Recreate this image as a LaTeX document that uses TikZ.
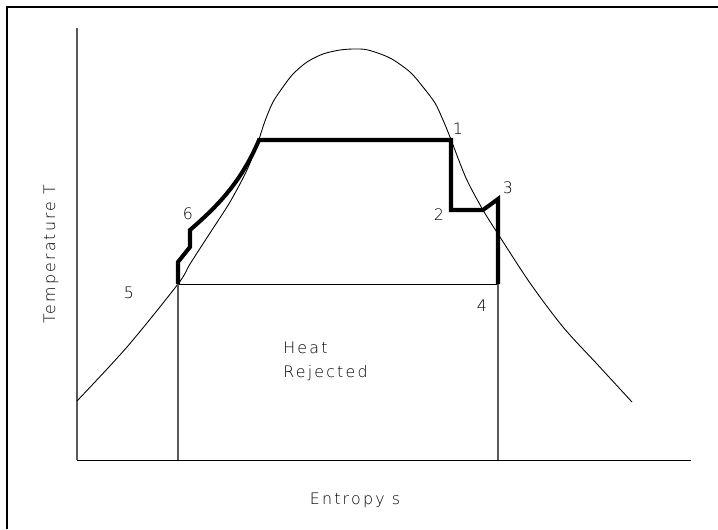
\documentclass[tikz,border=0pt]{standalone}
\usepackage{fontspec}
\setmainfont{DejaVu Sans ExtraLight}[LetterSpace=14]

\begin{document}
\begin{tikzpicture}[x=0.02cm, y=-0.02cm,
    fina/.style={line width=0.5pt},
    gris/.style={line width=0.6pt, black!65},
    ciclo/.style={line width=2.3pt, line join=miter},
    etiqueta/.style={font=\fontsize{9}{11}\selectfont, inner sep=0pt}]
            \useasboundingbox (0,0) rectangle (718,529);
            % Marco
            \draw[line width=1.3pt] (7,529) -- (7,7) -- (718,7);

            % Ejes coordinados
            \coordinate (origen) at (77,460);
            \draw[gris] (origen) -- (77,28);
            \draw[fina] (origen) -- (691,460);
            \node[etiqueta, rotate=90, anchor=base] (ejeT) at (55,254) {Temperature T};
            \node[etiqueta, anchor=base] (ejes) at (355,504) {Entropy s};

            % Campana de saturacion
            \draw[fina] plot[smooth, tension=0.5] coordinates {
                (77,401) (127,347) (178,284) (190,264) (210,233) (230,202) (247,170)
                (258,142) (265,121) (273,102) (283,87) (293,74) (307,62) (323,54)
                (340,50) (354,49) (368,50) (390,58) (410,72) (423,87) (435,103)
                (443,120) (450,137) (466,178) (483,210) (500,237) (530,283)
                (563,327) (597,364) (632,402)};

            % Estados del ciclo
            \coordinate (s1) at (451,140);
            \coordinate (s2) at (451,210);
            \coordinate (s2b) at (483,210);
            \coordinate (s3) at (498,199);
            \coordinate (s4) at (498,284);
            \coordinate (s5) at (178,284);
            \coordinate (s6) at (190,230);
            \coordinate (sg) at (259,140);

            % Calor rechazado
            \draw[fina] (s5) -- (s4);
            \draw[gris] (s5) -- (178,460);
            \draw[gris] (s4) -- (498,460);

            % Ciclo (linea gruesa)
            \draw[ciclo] (s4) -- (s3) -- (s2b) -- (s2) -- (s1) -- (sg)
                .. controls (240,185) and (214,209) .. (s6)
                -- (190,247) -- (178,262) -- (s5);

            % Numeros de estado
            \node[etiqueta] (n1) at (458,129) {1};
            \node[etiqueta] (n2) at (439,215) {2};
            \node[etiqueta] (n3) at (508,188) {3};
            \node[etiqueta] (n4) at (482,306) {4};
            \node[etiqueta] (n5) at (129,293) {5};
            \node[etiqueta] (n6) at (188,214) {6};

            % Texto interior
            \node[etiqueta, anchor=base west] (heat) at (283,353) {Heat};
            \node[etiqueta, anchor=base west] (rejected) at (283,377) {Rejected};
        \end{tikzpicture}
\end{document}
